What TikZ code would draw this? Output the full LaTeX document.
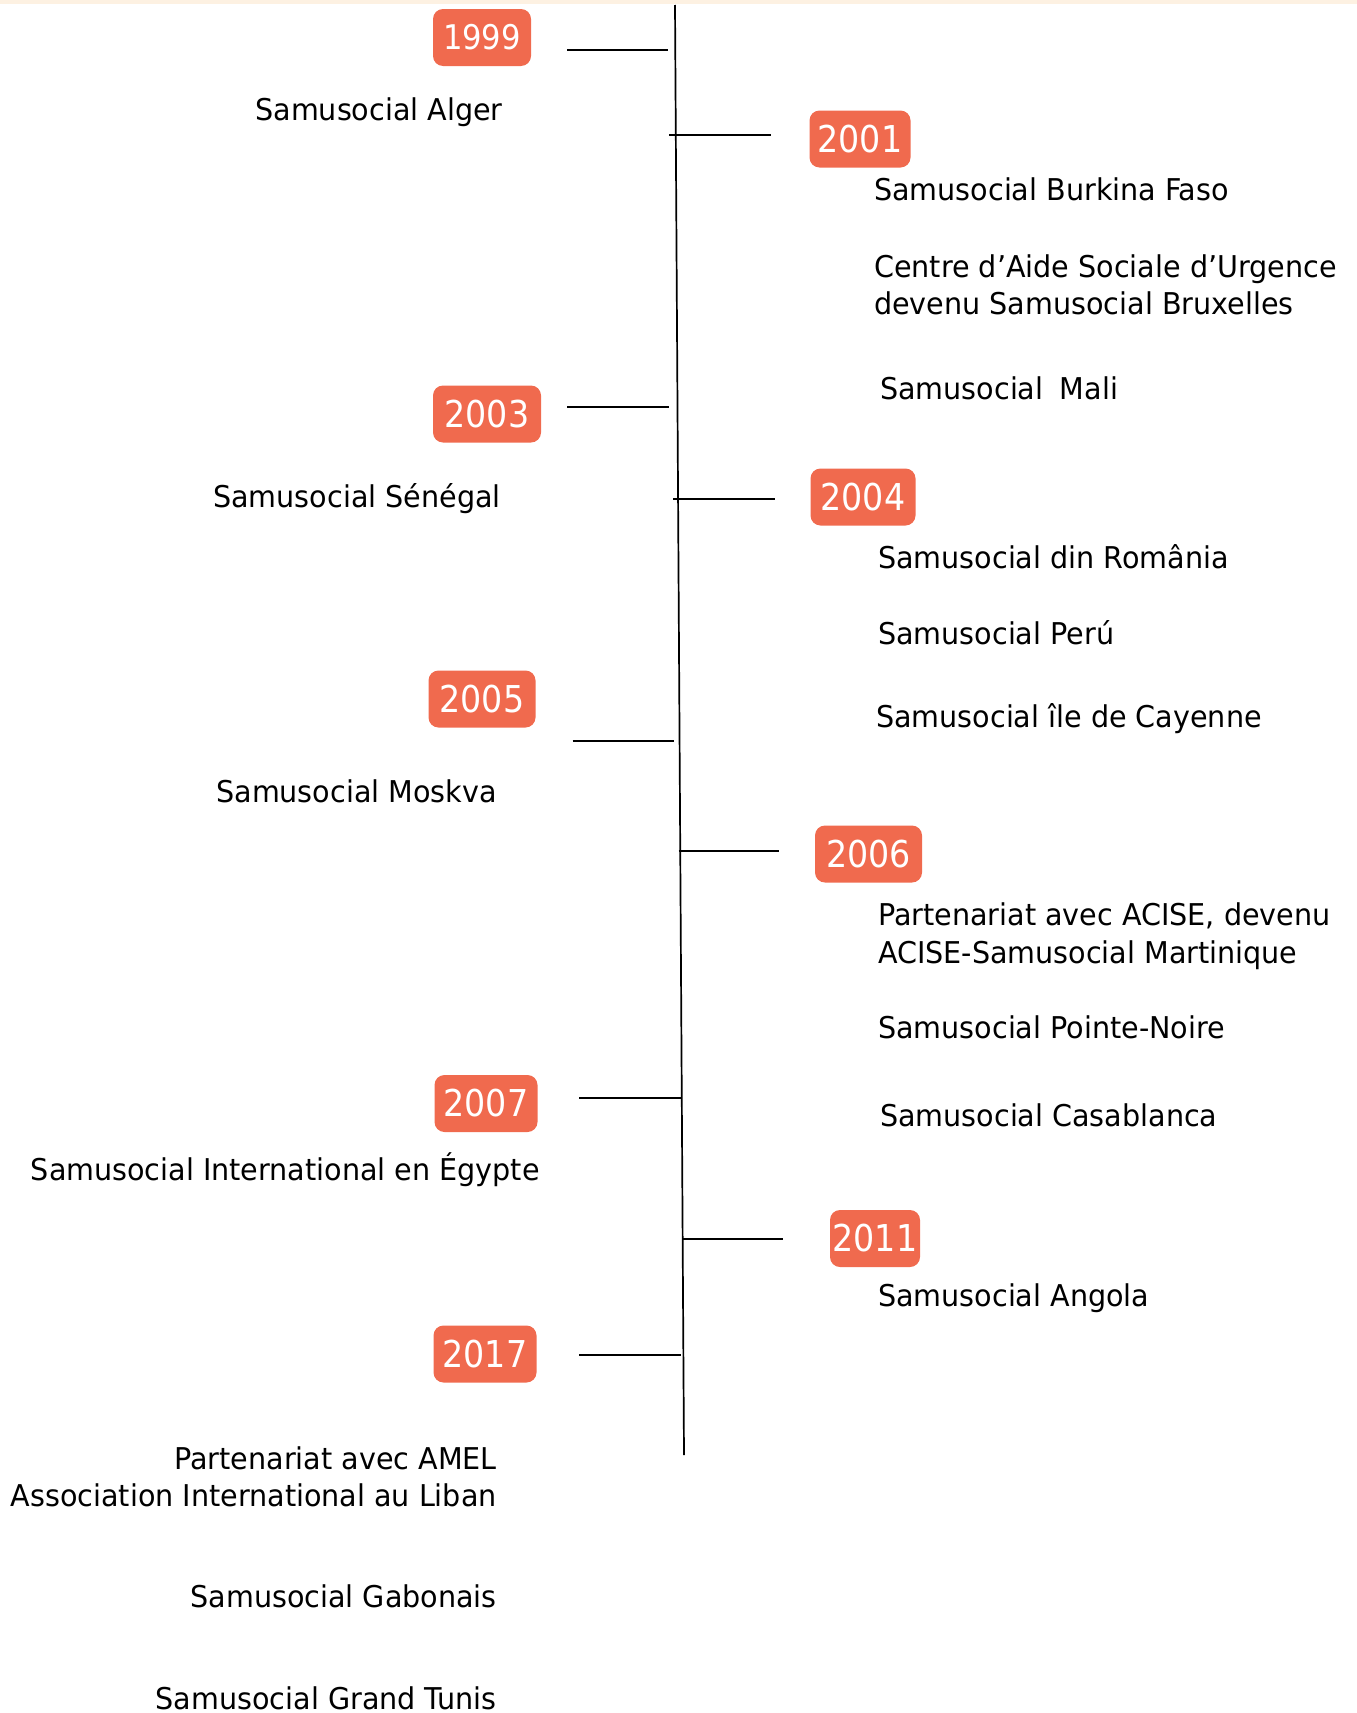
\documentclass[tikz,border=0pt]{standalone}
\usepackage{fontspec}
\setmainfont[FakeStretch=1.06]{DejaVu Sans Condensed}
\newfontfamily\yearfont{DejaVu Sans Condensed}
\definecolor{coral}{RGB}{240,106,78}
\definecolor{band}{RGB}{253,241,226}
\tikzset{
  yearbox/.style={fill=coral, rounded corners=10pt, text=white, minimum height=57pt, inner sep=0pt, font=\yearfont\fontsize{37}{40}\selectfont},
  lbl/.style={inner sep=0pt, font=\fontsize{30}{36}\selectfont, text=black},
  lblL/.style={lbl, anchor=base east},
  lblR/.style={lbl, anchor=base west},
  tick/.style={line width=1.8pt, black},
  spine/.style={line width=1.7pt, black}
}
\begin{document}
\begin{tikzpicture}[x=1pt,y=-1pt]
\useasboundingbox (0,0) rectangle (1357,1713);
\fill[band] (0,0) rectangle (1357,4);
% spine
\coordinate (top) at (675,5);
\coordinate (bot) at (684,1455);
\draw[spine] (top) -- (bot);
% ticks
\coordinate (t99a) at (567,50);   \coordinate (t99b) at (668,50);
\coordinate (t01a) at (669,135);  \coordinate (t01b) at (771,135);
\coordinate (t03a) at (567,407);  \coordinate (t03b) at (669,407);
\coordinate (t04a) at (673,499);  \coordinate (t04b) at (775,499);
\coordinate (t05a) at (572.5,741);  \coordinate (t05b) at (674,741);
\coordinate (t06a) at (678.5,851);  \coordinate (t06b) at (779,851);
\coordinate (t07a) at (579,1098); \coordinate (t07b) at (681,1098);
\coordinate (t11a) at (683,1239); \coordinate (t11b) at (783,1239);
\coordinate (t17a) at (579,1355); \coordinate (t17b) at (681,1355);
\foreach \t in {99,01,03,04,05,06,07,11,17}{\draw[tick] (t\t a) -- (t\t b);}
% year boxes
\node[yearbox, minimum width=98pt, font=\yearfont\fontsize{34}{38}\selectfont] (y1999) at (482,37.5) {1999};
\node[yearbox, minimum width=101pt] (y2001) at (860,139) {2001};
\node[yearbox, minimum width=108pt] (y2003) at (487,414) {2003};
\node[yearbox, minimum width=105pt] (y2004) at (863,497) {2004};
\node[yearbox, minimum width=107pt] (y2005) at (482,699) {2005};
\node[yearbox, minimum width=107pt] (y2006) at (868.5,854) {2006};
\node[yearbox, minimum width=103pt] (y2007) at (486,1103.5) {2007};
\node[yearbox, minimum width=90pt] (y2011) at (875,1238.5) {2011};
\node[yearbox, minimum width=103pt] (y2017) at (485,1354) {2017};
% left labels
\node[lblL] (alger) at (503,120) {Samusocial Alger};
\node[lblL] (senegal) at (501,507) {Samusocial Sénégal};
\node[lblL] (moskva) at (497,802) {Samusocial Moskva};
\node[lblL] (egypte) at (540,1180) {Samusocial International en Égypte};
\node[lblL] (amel1) at (497,1469) {Partenariat avec AMEL};
\node[lblL] (amel2) at (497,1506) {Association International au Liban};
\node[lblL] (gabon) at (497,1607) {Samusocial Gabonais};
\node[lblL] (tunis) at (497,1709) {Samusocial Grand Tunis};
% right labels
\node[lblR] (burkina) at (874,200) {Samusocial Burkina Faso};
\node[lblR] (casu1) at (874,277) {Centre d’Aide Sociale d’Urgence};
\node[lblR] (casu2) at (874,314) {devenu Samusocial Bruxelles};
\node[lblR] (mali) at (880,399) {Samusocial\hspace{0.55em}Mali};
\node[lblR] (romania) at (878,568) {Samusocial din România};
\node[lblR] (peru) at (878,644) {Samusocial Perú};
\node[lblR] (cayenne) at (876,727) {Samusocial île de Cayenne};
\node[lblR] (acise1) at (878,925) {Partenariat avec ACISE, devenu};
\node[lblR] (acise2) at (878,963) {ACISE-Samusocial Martinique};
\node[lblR] (pnoire) at (878,1038) {Samusocial Pointe-Noire};
\node[lblR] (casa) at (880,1126) {Samusocial Casablanca};
\node[lblR] (angola) at (878,1306) {Samusocial Angola};
\end{tikzpicture}
\end{document}
